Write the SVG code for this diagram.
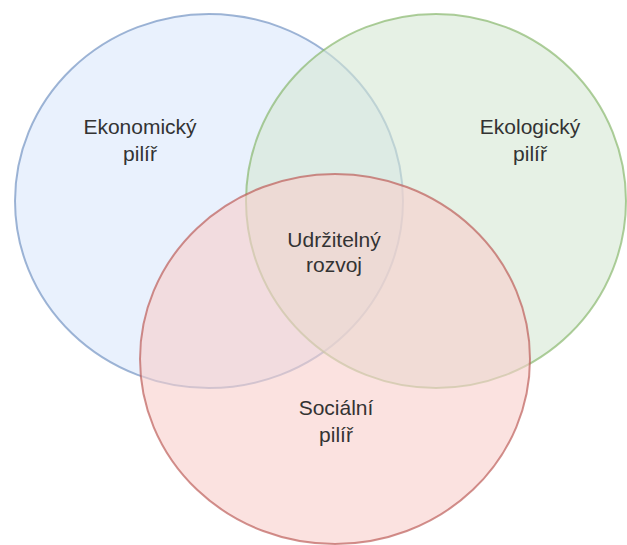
<svg xmlns="http://www.w3.org/2000/svg" width="627" height="545" viewBox="0 0 627 545">
<style>
.c{stroke-width:2;fill-opacity:0.6;stroke-opacity:0.65}
.t{font-family:"Liberation Sans",Arial,sans-serif;font-size:21px;fill:#333333;text-anchor:middle}
</style>
<rect width="627" height="545" fill="#ffffff"/>
<g id="ekonomicky">
<ellipse class="c" cx="209" cy="201" rx="194" ry="187" fill="#dae8fc" stroke="#6c8ebf"/>
</g>
<g id="ekologicky">
<ellipse class="c" cx="436" cy="201" rx="190" ry="187" fill="#d5e8d4" stroke="#82b366"/>
</g>
<g id="socialni">
<ellipse class="c" cx="335" cy="359" rx="195" ry="185" fill="#f8cecc" stroke="#b85450"/>
</g>
<g id="labels">
<text class="t" x="140" y="134">Ekonomický</text>
<text class="t" x="140" y="161">pilíř</text>
<text class="t" x="530" y="134">Ekologický</text>
<text class="t" x="530" y="161">pilíř</text>
<text class="t" x="334" y="247">Udržitelný</text>
<text class="t" x="334" y="272">rozvoj</text>
<text class="t" x="336" y="415">Sociální</text>
<text class="t" x="336" y="442">pilíř</text>
</g>
<g id="connectors"/>
</svg>
